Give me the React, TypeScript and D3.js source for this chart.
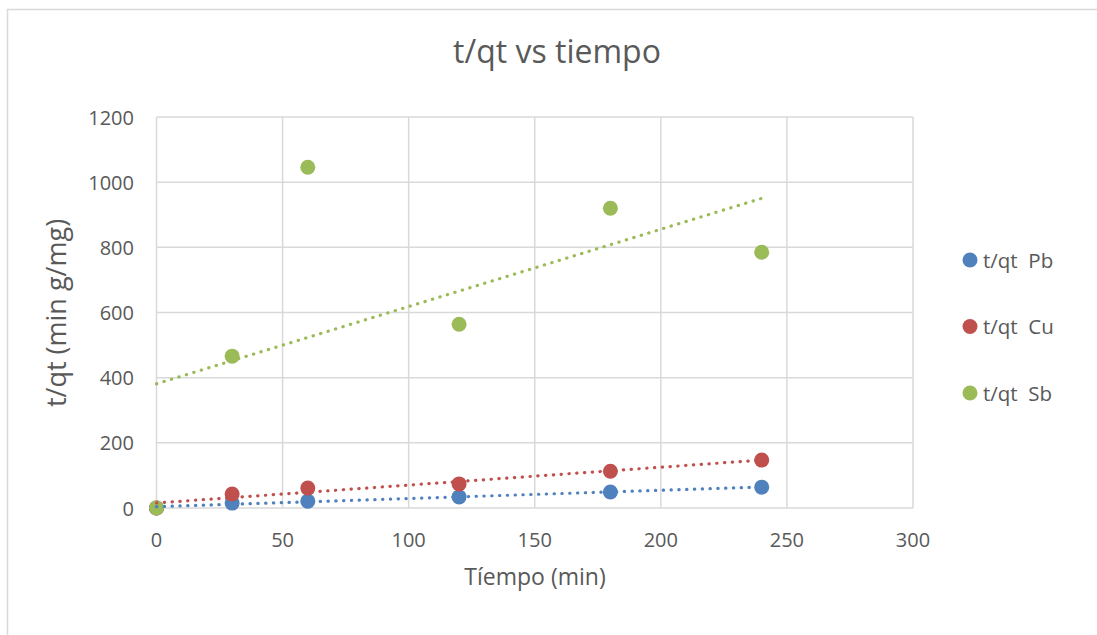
import React from "react";
import * as d3 from "d3";

const times = [0, 30, 60, 120, 180, 240];
const pbValues = [0, 15, 21, 34, 49, 64];
const cuValues = [0, 43, 61, 74, 113, 147];
const sbValues = [0, 466, 1046, 564, 920, 785];
const seriesNames = ["t/qt  Pb", "t/qt  Cu", "t/qt  Sb"];
const seriesColors = ["#4F81BD", "#C0504D", "#9BBB59"];
const xTicks = [0, 50, 100, 150, 200, 250, 300];
const yTicks = [0, 200, 400, 600, 800, 1000, 1200];

const W = 1097;
const H = 635;
const FONT = "'Open Sans', 'Noto Sans', sans-serif";
const TXT = "#595959";

function regression(xs: number[], ys: number[]) {
  const mx = d3.mean(xs) as number;
  const my = d3.mean(ys) as number;
  let sxy = 0, sxx = 0;
  xs.forEach((x, i) => { sxy += (x - mx) * (ys[i] - my); sxx += (x - mx) * (x - mx); });
  const slope = sxy / sxx;
  return { slope, intercept: my - slope * mx };
}

export default function App() {
  const left = 156.5, right = 913, top = 117, bottom = 508;
  const x = d3.scaleLinear().domain([0, 300]).range([left, right]);
  const y = d3.scaleLinear().domain([0, 1200]).range([bottom, top]);
  const series = [pbValues, cuValues, sbValues];
  const xmin = d3.min(times) as number, xmax = d3.max(times) as number;

  return (
    <svg width={W} height={H} style={{ position: "absolute", left: 0, top: 0, background: "#fff" }}>
      <rect x={7.5} y={9.5} width={W + 10} height={H + 10} fill="#fff" stroke="#d9d9d9" strokeWidth={1.5} />
      <text x={557} y={63} textAnchor="middle" fontFamily={FONT} fontSize={32} fill={TXT}>t/qt vs tiempo</text>
      {yTicks.map((t) => (
        <line key={"gy" + t} x1={left} x2={right} y1={y(t)} y2={y(t)} stroke="#d9d9d9" strokeWidth={1.5} />
      ))}
      {xTicks.map((t) => (
        <line key={"gx" + t} x1={x(t)} x2={x(t)} y1={top} y2={bottom} stroke="#d9d9d9" strokeWidth={1.5} />
      ))}
      {yTicks.map((t) => (
        <text key={"ty" + t} x={134} y={y(t) + 7.5} textAnchor="end" fontFamily={FONT} fontSize={20} fill={TXT}>{t}</text>
      ))}
      {xTicks.map((t) => (
        <text key={"tx" + t} x={x(t)} y={547} textAnchor="middle" fontFamily={FONT} fontSize={20} fill={TXT}>{t}</text>
      ))}
      <text x={535} y={585} textAnchor="middle" fontFamily={FONT} fontSize={23} fill={TXT}>Tíempo (min)</text>
      <text transform={`translate(66,313) rotate(-90)`} textAnchor="middle" fontFamily={FONT} fontSize={27} fill={TXT}>t/qt (min g/mg)</text>
      {series.map((vals, si) => (
        <g key={"s" + si}>
          {vals.map((v, i) => (
            <circle key={i} cx={x(times[i])} cy={y(v)} r={7.5} fill={seriesColors[si]} />
          ))}
        </g>
      ))}
      {series.map((vals, si) => {
        const r = regression(times, vals);
        return (
          <line key={"t" + si} x1={x(xmin)} y1={y(r.intercept + r.slope * xmin)} x2={x(xmax)} y2={y(r.intercept + r.slope * xmax)}
            stroke={seriesColors[si]} strokeWidth={3.2} strokeDasharray="0.3 7.5" strokeLinecap="round" />
        );
      })}
      {seriesNames.map((n, i) => (
        <g key={"l" + i}>
          <circle cx={970} cy={260 + i * 66.5} r={7.5} fill={seriesColors[i]} />
          <text x={983} y={267.5 + i * 66.5} fontFamily={FONT} fontSize={20.5} fill={TXT} style={{ whiteSpace: "pre" }}>{n}</text>
        </g>
      ))}
    </svg>
  );
}
